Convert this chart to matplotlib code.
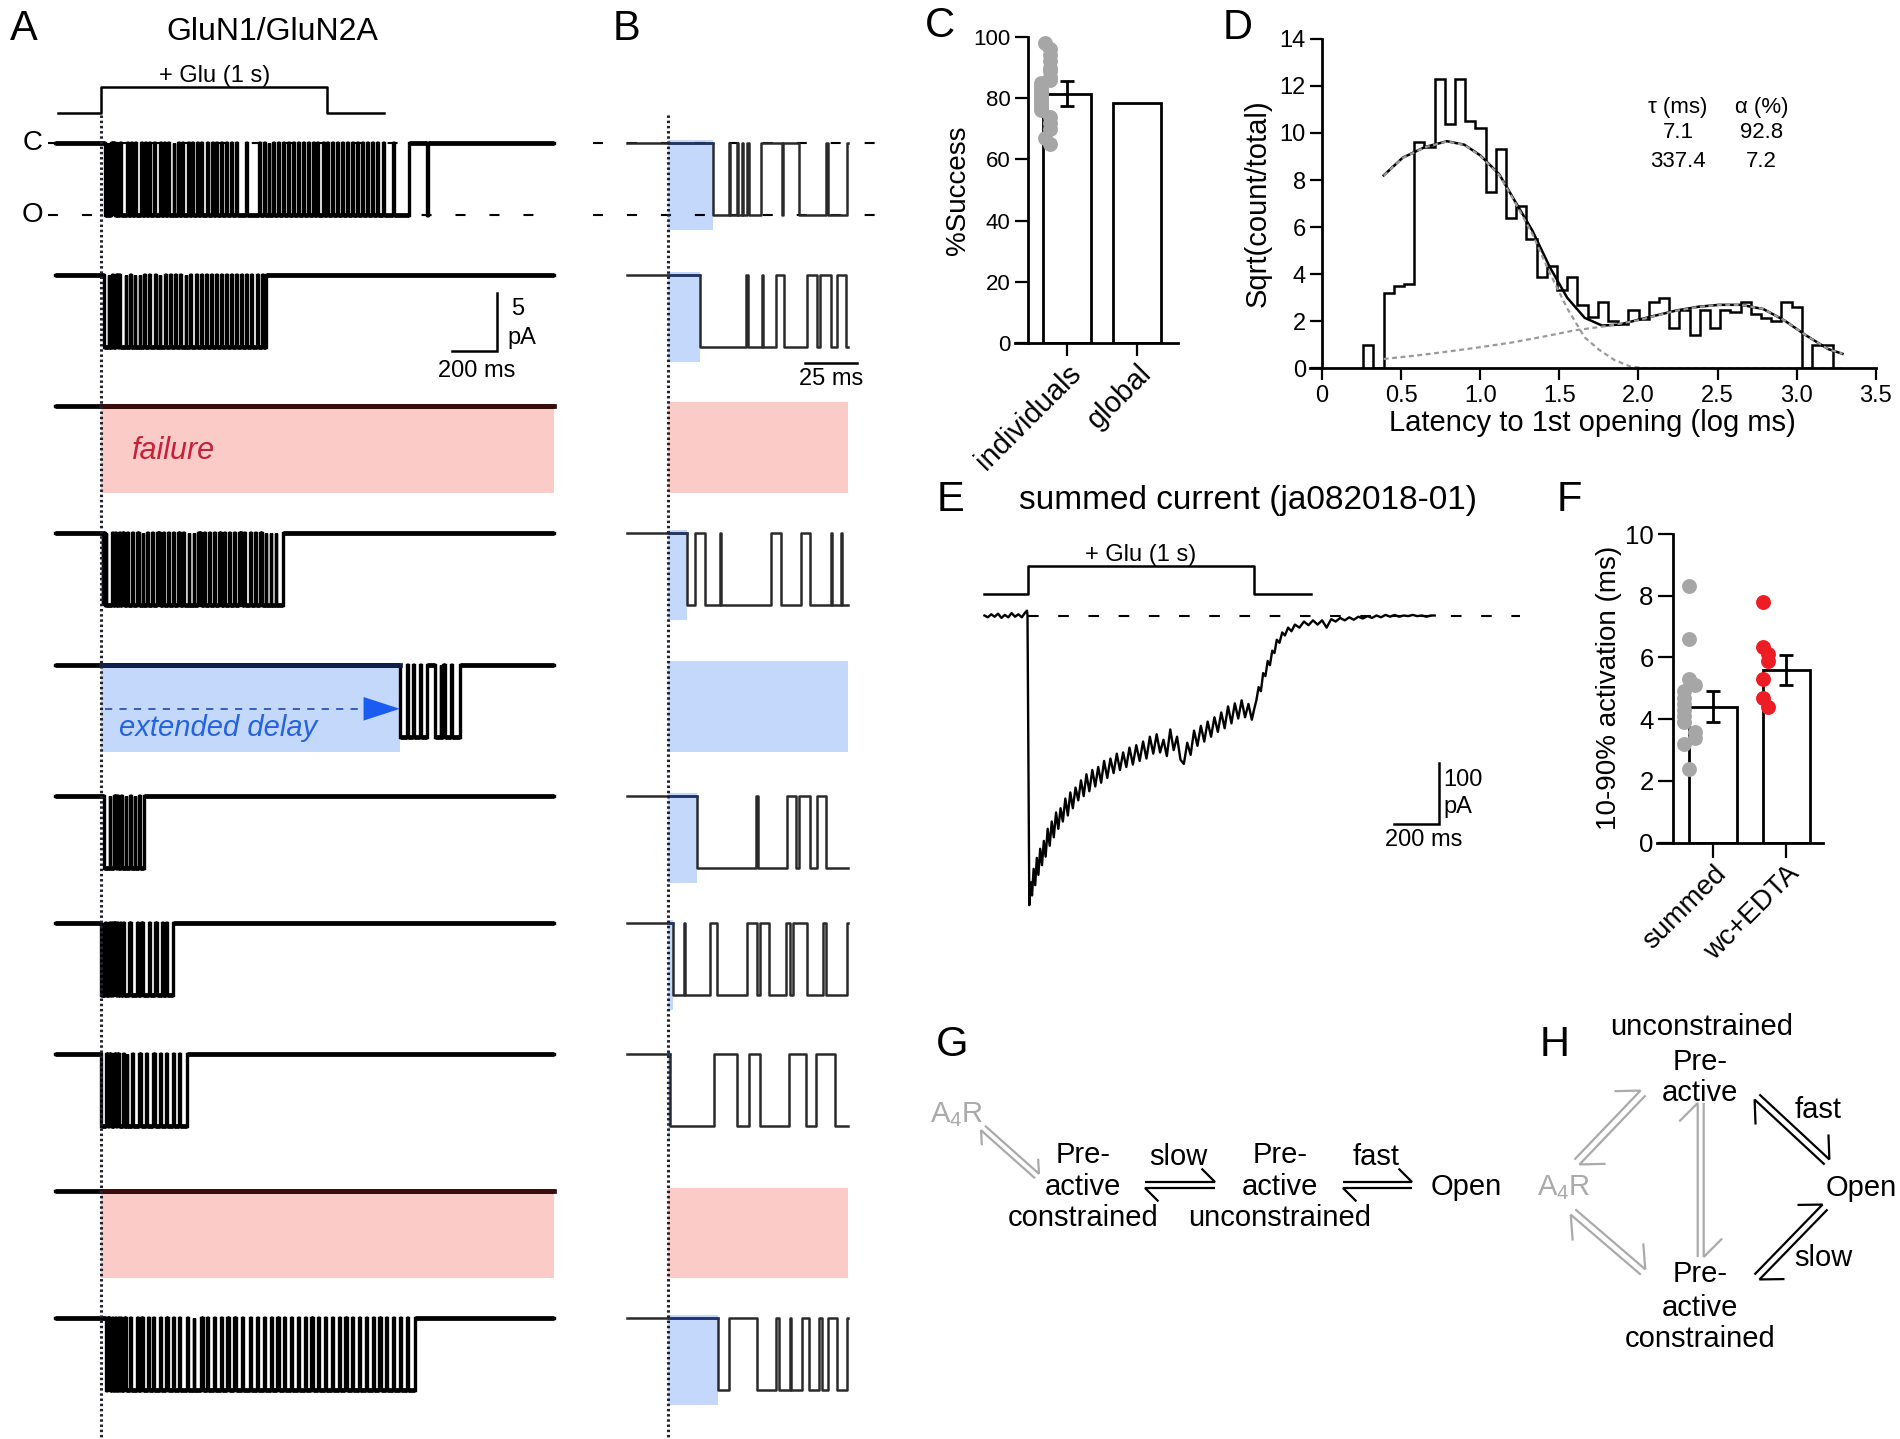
import numpy as np
import matplotlib
matplotlib.use("Agg")
import matplotlib.pyplot as plt
from matplotlib.lines import Line2D
import matplotlib.transforms as mtrans

plt.rcParams['font.family'] = ['Liberation Sans', 'DejaVu Sans']
plt.rcParams['mathtext.fontset'] = 'custom'
plt.rcParams['mathtext.rm'] = 'Liberation Sans'
plt.rcParams['mathtext.it'] = 'Liberation Sans:italic'

# ====================== DATA ======================
# Panels A/B: single-channel sweeps; open intervals in ms after glutamate onset
sweep_01 = [(21.5, 29.0), (29.6, 33.0), (33.6, 35.5), (36.1, 38.0), (38.6, 44.5), (54.5, 55.3),
            (63.0, 76.0), (76.6, 86.0), (92, 118), (121, 135), (139, 152), (156, 178), (181, 196),
            (200, 214), (218, 236), (240, 262), (265, 281), (285, 297), (301, 322), (326, 340),
            (344, 361), (365, 384), (388, 402), (406, 425), (429, 445), (449, 468), (472, 491),
            (495, 509), (513, 532), (536, 553), (557, 575), (579, 598), (602, 640), (644, 700),
            (704, 722), (726, 741), (745, 763), (767, 783), (787, 806), (810, 829), (833, 848),
            (852, 871), (875, 893), (897, 914), (918, 936), (940, 957), (961, 980), (984, 1000),
            (1004, 1022), (1026, 1045), (1049, 1066), (1070, 1088), (1092, 1110), (1114, 1131),
            (1135, 1152), (1156, 1175), (1179, 1198), (1202, 1220), (1224, 1245), (1249, 1290),
            (1294, 1362), (1442, 1447)]
sweep_02 = [(15.1, 37.5), (38.2, 45.0), (45.6, 52.0), (55.5, 66.5), (71.5, 73.0), (78.0, 81.0),
            (85.5, 110), (114, 131), (135, 150), (154, 172), (176, 190), (194, 215), (219, 240),
            (244, 260), (264, 283), (287, 305), (309, 330), (334, 352), (356, 375), (379, 395),
            (399, 420), (424, 442), (446, 465), (469, 487), (491, 510), (514, 532), (536, 552),
            (556, 575), (579, 597), (601, 620), (624, 642), (646, 665), (669, 690), (694, 712),
            (716, 732)]
sweep_03 = []
sweep_04 = [(8.8, 12.6), (17.8, 24.8), (25.4, 49.5), (54.3, 64.0), (68.0, 78.0), (78.7, 83.0),
            (83.6, 95), (102, 118), (122, 140), (144, 160), (170, 185), (189, 205), (209, 228),
            (232, 250), (262, 275), (279, 296), (300, 320), (324, 342), (352, 365), (369, 388),
            (392, 410), (414, 432), (442, 455), (459, 478), (482, 500), (504, 522), (533, 545),
            (549, 566), (570, 590), (594, 612), (622, 635), (639, 660), (664, 683), (687, 705),
            (714, 728), (732, 750), (754, 772), (776, 805)]
sweep_05 = [(1320, 1352), (1355, 1380), (1384, 1410), (1413, 1439), (1476, 1500), (1504, 1511),
            (1518, 1545), (1549, 1585)]
sweep_06 = [(14.0, 42.4), (43.0, 57.0), (61.5, 62.8), (68.0, 71.5), (76.0, 92.0), (95, 110),
            (114, 128), (134, 150), (154, 170), (174, 190)]
sweep_07 = [(2.4, 7.5), (8.0, 20.0), (23.5, 38.0), (42.5, 44.0), (48.5, 56.5), (58.5, 60.0),
            (66.5, 74.5), (76.0, 86.0), (88, 100), (104, 125), (135, 160), (165, 180), (185, 215),
            (220, 240), (248, 270), (275, 290), (295, 318)]
sweep_08 = [(0.8, 22.0), (32.8, 39.0), (44.0, 58.0), (66.0, 71.0), (80.0, 100), (104, 115),
            (118, 140), (144, 170), (178, 200), (204, 230), (238, 260), (265, 290), (294, 320),
            (325, 345), (350, 380)]
sweep_09 = []
sweep_10 = [(23.9, 29.2), (42.8, 51.7), (53.0, 58.5), (59.2, 64.5), (67.7, 72.4), (73.8, 77.0),
            (81.0, 86.0), (90, 105), (110, 130), (134, 160), (165, 180), (186, 210), (215, 230),
            (236, 260), (265, 290), (296, 320), (326, 345), (350, 380), (385, 410), (414, 445),
            (450, 470), (476, 500), (505, 530), (536, 560), (566, 590), (596, 625), (630, 660),
            (664, 690), (696, 720), (726, 750), (755, 780), (786, 810), (815, 840), (846, 870),
            (876, 900), (905, 930), (936, 960), (966, 990), (995, 1020), (1026, 1050), (1056, 1080),
            (1086, 1110), (1116, 1140), (1146, 1170), (1176, 1200), (1206, 1230), (1236, 1260),
            (1266, 1290), (1296, 1320), (1326, 1350), (1356, 1388)]
sweeps = [sweep_01, sweep_02, sweep_03, sweep_04, sweep_05,
          sweep_06, sweep_07, sweep_08, sweep_09, sweep_10]
sweep_kind = ['ok', 'ok', 'failure', 'ok', 'delay', 'ok', 'ok', 'ok', 'failure', 'ok']
unitary_pA = 6.2
sweep_start, sweep_end = -200, 2000          # ms (panel A)
zoom_start, zoom_end = -20, 86.5             # ms (panel B)
glu_t = [-190, 0, 0, 1000, 1000, 1250]
glu_level = [0, 0, 1, 1, 0, 0]

# Panel C
C_categories = ['individuals', 'global']
C_values = [81.5, 78.5]
C_sem = 4.1
C_points = [98, 96, 94, 92, 90, 89, 87, 86, 85, 84, 83, 82, 81, 80, 79, 78, 77, 76, 74, 72, 70, 67, 65]

# Panel D
D_bin_start, D_bin_width = 0.26, 0.0645
D_heights = [1.0, 0.0, 3.2, 3.5, 3.6, 9.6, 9.4, 12.3, 10.4, 12.3, 10.5, 10.2, 7.5, 9.3, 6.4, 6.9,
             5.5, 3.9, 4.35, 3.35, 3.9, 2.7, 2.2, 2.8, 2.0, 1.9, 2.5, 2.1, 2.8, 3.0, 1.7, 2.5, 1.4,
             2.5, 1.7, 2.5, 2.4, 2.8, 2.3, 2.15, 2.0, 2.8, 2.6, 0.0, 1.0, 1.0]
D_fit_x = [0.39, 0.51, 0.65, 0.79, 0.90, 1.00, 1.12, 1.22, 1.33, 1.44, 1.55, 1.66, 1.77, 1.88,
           1.99, 2.10, 2.24, 2.38, 2.51, 2.65, 2.79, 2.92, 3.06, 3.20, 3.29]
D_fit_total = [8.2, 8.95, 9.4, 9.65, 9.5, 9.05, 8.25, 7.1, 5.85, 4.3, 3.0, 2.15, 1.82, 1.86, 2.05,
               2.23, 2.46, 2.62, 2.70, 2.70, 2.52, 2.05, 1.40, 0.82, 0.62]
D_fast_x = [0.39, 0.51, 0.65, 0.79, 0.90, 1.00, 1.12, 1.22, 1.33, 1.44, 1.55, 1.66, 1.75, 1.85,
            1.95, 2.05, 3.29]
D_fast_y = [8.19, 8.94, 9.39, 9.64, 9.49, 9.03, 8.22, 7.06, 5.7, 4.05, 2.55, 1.32, 0.8, 0.35,
            0.08, 0.0, 0.0]
D_slow_x = [0.39, 0.6, 0.8, 1.0, 1.2, 1.4, 1.6, 1.8, 1.99, 2.10, 2.24, 2.38, 2.51, 2.65, 2.79,
            2.92, 3.06, 3.20, 3.29]
D_slow_y = [0.4, 0.55, 0.72, 0.9, 1.1, 1.35, 1.62, 1.8, 2.03, 2.22, 2.45, 2.61, 2.7, 2.7, 2.52,
            2.05, 1.4, 0.82, 0.62]
D_tau = ['7.1', '337.4']
D_alpha = ['92.8', '7.2']
D_xticklabels = ['0', '0.5', '1.0', '1.5', '2.0', '2.5', '3.0', '3.5']

# Panel E: summed current (ms, pA)
E_t = [-190, -175, -160, -145, -130, -115, -100, -85, -70, -55, -40, -25, -10, -2, 0,
       8, 14, 20, 27, 34, 41, 48, 56, 64, 72, 80, 89, 98, 107, 116, 126, 136, 146, 156, 167,
       178, 189, 200, 212, 224, 236, 248, 260, 273, 286, 299, 312, 325, 338, 352, 366, 380,
       394, 408, 422, 436, 450, 465, 480, 495, 510, 525, 540, 555, 570, 585, 600, 615, 630,
       645, 660, 675, 690, 705, 720, 735, 750, 765, 780, 795, 810, 825, 840, 855, 870, 885,
       900, 915, 930, 945, 960, 975, 990, 1000, 1010, 1020, 1030, 1040, 1050, 1060, 1070,
       1080, 1090, 1100, 1112, 1124, 1136, 1150, 1165, 1180, 1200, 1220, 1240, 1260, 1280,
       1300, 1320, 1340, 1360, 1380, 1400, 1420, 1440, 1460, 1480, 1500, 1520, 1540, 1560,
       1580, 1600, 1620, 1640, 1660, 1680, 1700, 1720, 1740, 1760, 1780, 1797]
E_I = [0, -3, 2, -2, 3, -4, 1, -3, 4, -2, 2, -3, 5, 8, 0,
       -478, -440, -462, -418, -445, -400, -428, -385, -412, -372, -398, -352, -380, -340, -366,
       -325, -352, -318, -340, -302, -330, -292, -318, -284, -305, -272, -298, -262, -290, -255,
       -282, -250, -276, -240, -268, -236, -260, -228, -255, -226, -250, -218, -246, -214, -240,
       -208, -236, -200, -228, -196, -226, -205, -232, -188, -222, -200, -238, -245, -210, -230,
       -190, -215, -182, -208, -175, -200, -168, -192, -160, -186, -150, -178, -145, -170, -140,
       -168, -146, -172, -155, -140, -118, -125, -95, -100, -75, -82, -58, -62, -40, -45, -28,
       -33, -20, -26, -15, -20, -10, -16, -8, -15, -8, -20, -6, -10, -4, -8, -3, -7, -2, -5, -1,
       -4, 0, -3, 1, -2, 1, -2, 0, -1, 1, -1, 0, -2, 0, 0]
E_glu_t = [-192, 0, 0, 1000, 1000, 1252]

# Panel F
F_categories = ['summed', 'wc+EDTA']
F_means = [4.4, 5.6]
F_sem = [0.5, 0.48]
F_summed = [8.3, 6.6, 5.3, 5.1, 4.9, 4.7, 4.5, 4.3, 4.1, 3.9, 3.6, 3.4, 3.2, 2.4]
F_wc = [7.8, 6.35, 6.1, 5.9, 5.3, 4.7, 4.4]

# ====================== LAYOUT / STYLE ======================
W, H = 1900, 1439
fig = plt.figure(figsize=(W / 100, H / 100), dpi=100)
PINK, BLUE = '#fbcbc7', '#c4d8fb'
GRAY = '#a6a6a6'
RED = '#ee1c24'


def box(x0, y0, x1, y1):
    return [x0 / W, 1 - y1 / H, (x1 - x0) / W, (y1 - y0) / H]


ov = fig.add_axes([0, 0, 1, 1])
ov.set_xlim(0, W)
ov.set_ylim(H, 0)
ov.set_axis_off()
ov.set_zorder(10)


def sweep_xy(opens, t0, t1, amp):
    xs, ys = [t0], [0.0]
    for a, b in opens:
        if b <= t0 or a >= t1:
            continue
        a = max(a, t0)
        if b >= t1:
            xs += [a, a, t1]
            ys += [0, -amp, -amp]
            return np.array(xs), np.array(ys)
        xs += [a, a, b, b]
        ys += [0, -amp, -amp, 0]
    xs.append(t1)
    ys.append(0.0)
    return np.array(xs), np.array(ys)


def draw_trace(ax, xs, ys, color, lw_v, lw_h, z=3):
    """Step trace: thin transitions, thicker (noisy-looking) dwell levels."""
    ax.plot(xs, ys, color=color, lw=lw_v, zorder=z, solid_joinstyle='miter')
    hx0, hx1, hy = [], [], []
    for k in range(len(xs) - 1):
        if ys[k] == ys[k + 1] and xs[k + 1] > xs[k]:
            hx0.append(xs[k]); hx1.append(xs[k + 1]); hy.append(ys[k])
    ax.hlines(hy, hx0, hx1, color=color, lw=lw_h, zorder=z)


ROW_BASE = [143.0, 275.1, 405.9, 533.1, 665.2, 796.1, 923.3, 1054.2, 1191.1, 1318.3]
PXPA = 11.6
A_T0PX, A_PXMS, A_XLIM = 100.6, 0.2266, (-210, 2020)
B_T0PX, B_PXMS, B_XLIM = 668.3, 2.08, (-36, 99.5)
YLIM = (-8.7, 2.5)
HL = 7.5  # highlight depth (pA)
A_LWV, A_LWH, B_LW = 2.4, 3.4, 1.8


def row_axes(base, t0px, pxms, xlim):
    x0 = t0px + xlim[0] * pxms
    x1 = t0px + xlim[1] * pxms
    ax = fig.add_axes(box(x0, base - YLIM[1] * PXPA, x1, base - YLIM[0] * PXPA))
    ax.set_xlim(*xlim)
    ax.set_ylim(*YLIM)
    ax.set_axis_off()
    return ax


A_rows, B_rows = [], []
for i, (opens, kind) in enumerate(zip(sweeps, sweep_kind)):
    axA = row_axes(ROW_BASE[i], A_T0PX, A_PXMS, A_XLIM)
    axB = row_axes(ROW_BASE[i], B_T0PX, B_PXMS, B_XLIM)
    A_rows.append(axA)
    B_rows.append(axB)
    xs, ys = sweep_xy(opens, sweep_start, sweep_end, unitary_pA)
    draw_trace(axA, xs, ys, 'black', A_LWV, A_LWH)
    if kind == 'failure':
        axA.fill_between([0, sweep_end], -HL, 0.2, color=PINK, lw=0, zorder=1)
        axA.plot([0, sweep_end], [0, 0], color='#3a0c0c', lw=A_LWH, zorder=4)
        axB.fill_between([0, zoom_end], -HL, 0.3, color=PINK, lw=0, zorder=1)
    elif kind == 'delay':
        lat = opens[0][0]
        axA.fill_between([0, lat], -HL, 0.2, color=BLUE, lw=0, zorder=1)
        axA.plot([0, lat], [0, 0], color='#10204a', lw=A_LWH, zorder=4)
        axB.fill_between([0, zoom_end], -HL, 0.4, color=BLUE, lw=0, zorder=1)
        axA.plot([21, lat - 150], [-3.76, -3.76], color='#2d55b0', lw=1.3, dashes=(4, 4), zorder=5)
        axA.annotate('', xy=(lat, -3.76), xytext=(lat - 200, -3.76),
                     arrowprops=dict(arrowstyle='-|>,head_length=2.6,head_width=0.85',
                                     mutation_scale=10, color='#1a5cf0', lw=0.01,
                                     shrinkA=0, shrinkB=0), zorder=6)
    else:
        lat = opens[0][0]
        axB.fill_between([0, lat], -HL, 0.3, color=BLUE, lw=0, zorder=1)
        xb, yb = sweep_xy(opens, zoom_start, zoom_end, unitary_pA)
        axB.plot(xb, yb, color='#2a2a2a', lw=B_LW, zorder=3)
        axB.plot([0, lat], [0, 0], color='#22336b', lw=B_LW, zorder=4)

# C / O reference levels
for lvl in (0, -unitary_pA):
    A_rows[0].plot([-230, sweep_end], [lvl, lvl], color='black', lw=1.5, dashes=(4.8, 11.5),
                   zorder=2, clip_on=False)
    B_rows[0].plot(B_XLIM, [lvl, lvl], color='black', lw=1.5, dashes=(4.8, 11.5), zorder=2)
ov.text(32.7, 143, 'C', ha='center', va='center', fontsize=20)
ov.text(32.7, 214.5, 'O', ha='center', va='center', fontsize=20)

# stimulus bar panel A
axS = fig.add_axes(box(A_T0PX + A_XLIM[0] * A_PXMS, 87.3, A_T0PX + A_XLIM[1] * A_PXMS, 113.0))
axS.set_xlim(*A_XLIM)
axS.set_ylim(0, 1)
axS.set_axis_off()
axS.plot(glu_t, glu_level, color='black', lw=1.8, clip_on=False)
ov.text(214.5, 76, '+ Glu (1 s)', ha='center', va='center', fontsize=17)

# dotted onset lines
for axr in (A_rows[0], B_rows[0]):
    tr = mtrans.blended_transform_factory(axr.transData, fig.transFigure)
    fig.add_artist(Line2D([0, 0], [1 - 115 / H, 0], transform=tr, color='#22222e', lw=2.2,
                          linestyle=(0, (0.8, 0.9)), zorder=20))

# scale bars A and B
a2 = A_rows[1]
a2.plot([1550, 1750, 1750], [-6.54, -6.54, -1.54], color='black', lw=1.8, clip_on=False,
        solid_joinstyle='miter')
a2.text(1812, -2.9, '5', ha='left', va='center', fontsize=17)
a2.text(1795, -5.4, 'pA', ha='left', va='center', fontsize=17)
a2.text(1661, -8.25, '200 ms', ha='center', va='center', fontsize=17)
b2 = B_rows[1]
b2.plot([65.6, 90.6], [-7.62, -7.62], color='black', lw=1.8, clip_on=False)
b2.text(78.1, -8.97, '25 ms', ha='center', va='center', fontsize=17)

ov.text(174, 451, 'failure', ha='center', va='center', fontsize=22, style='italic', color='#c8203a')
ov.text(218, 728, 'extended delay', ha='center', va='center', fontsize=21, style='italic',
        color='#2463e0')
ov.text(272.6, 32, 'GluN1/GluN2A', ha='center', va='center', fontsize=23)

# ---------------- Panel C ----------------
def style_axis(ax, tick_len, tick_fs):
    for s in ('top', 'right'):
        ax.spines[s].set_visible(False)
    for s in ('left', 'bottom'):
        ax.spines[s].set_linewidth(2.0)
    ax.tick_params(direction='out', width=1.6, length=tick_len, labelsize=tick_fs, pad=3)


def swarm(vals, dy, dx):
    placed, offs = [], []
    for v in vals:
        k = sum(1 for p in placed if abs(p - v) < dy)
        off = ((k + 1) // 2) * dx * (1 if k % 2 else -1)
        offs.append(off)
        placed.append(v)
    return np.array(offs)


axC = fig.add_axes(box(1015, 37, 1178, 343))
axC.set_xlim(-0.73, 1.574)
axC.set_ylim(0, 100)
style_axis(axC, 9.4, 16)
axC.spines['left'].set_position(('data', -0.547))
axC.spines['left'].set_bounds(0, 100)
axC.bar([0, 1], C_values, width=0.68, color='white', edgecolor='black', lw=2.0, zorder=2)
axC.errorbar(0, C_values[0], yerr=C_sem, color='black', lw=2.0, capsize=5, capthick=2.0, zorder=3)
axC.scatter(-0.30 + swarm(C_points, 3.0, 0.06), C_points, s=115, color=GRAY, lw=0, zorder=4,
            clip_on=False)
axC.set_yticks([0, 20, 40, 60, 80, 100])
axC.set_xticks([0, 1])
axC.set_xticklabels(C_categories, rotation=45, ha='right', rotation_mode='anchor', fontsize=21)
axC.tick_params(axis='x', pad=2)
axC.set_ylabel('%Success', fontsize=20, labelpad=2)

# ---------------- Panel D ----------------
axD = fig.add_axes(box(1310, 38.8, 1875.7, 368.4))
axD.set_xlim(-0.076, 3.5)
axD.set_ylim(0, 14)
style_axis(axD, 8.6, 17)
axD.spines['left'].set_position(('data', 0))
edges = D_bin_start + D_bin_width * np.arange(len(D_heights) + 1)
axD.stairs(D_heights, edges, color='black', lw=1.8, baseline=0)
axD.plot(D_fit_x, D_fit_total, color='black', lw=1.8)
axD.plot(D_fast_x, D_fast_y, color='#9a9a9a', lw=1.6, dashes=(2.2, 1.6))
axD.plot(D_slow_x, D_slow_y, color='#9a9a9a', lw=1.6, dashes=(2.2, 1.6))
axD.set_xticks(np.arange(0, 3.51, 0.5))
axD.set_xticklabels(D_xticklabels)
axD.set_yticks(np.arange(0, 15, 2))
axD.set_xlabel('Latency to 1st opening (log ms)', fontsize=21, labelpad=2)
axD.set_ylabel('Sqrt(count/total)', fontsize=21, labelpad=6)
axD.text(2.25, 11.07, 'τ (ms)', ha='center', va='center', fontsize=16)
axD.text(2.78, 11.07, 'α (%)', ha='center', va='center', fontsize=16)
for k in range(2):
    axD.text(2.25, 10.0 - 1.2 * k, D_tau[k], ha='center', va='center', fontsize=16)
    axD.text(2.78, 10.0 - 1.2 * k, D_alpha[k], ha='center', va='center', fontsize=16)

# ---------------- Panel E ----------------
E_T0PX, E_PXMS, E_BASE, E_PXPA = 1027.5, 0.2266, 615.5, 0.606
E_XLIM, E_YLIM = (-200, 2200), (-500, 60)
axE = fig.add_axes(box(E_T0PX + E_XLIM[0] * E_PXMS, E_BASE - E_YLIM[1] * E_PXPA,
                       E_T0PX + E_XLIM[1] * E_PXMS, E_BASE - E_YLIM[0] * E_PXPA))
axE.set_xlim(*E_XLIM)
axE.set_ylim(*E_YLIM)
axE.set_axis_off()
axE.hlines(0, 0, 2175, color='black', lw=1.5, linestyles=(0, (5.1, 9.4)))
axE.plot(E_t, E_I, color='black', lw=1.7)
axE.plot([1618, 1818, 1818], [-344, -344, -244], color='black', lw=1.8, solid_joinstyle='miter')
axE.text(1836, -272, '100', ha='left', va='center', fontsize=17)
axE.text(1836, -316, 'pA', ha='left', va='center', fontsize=17)
axE.text(1748, -370, '200 ms', ha='center', va='center', fontsize=17)
axES = fig.add_axes(box(E_T0PX + E_XLIM[0] * E_PXMS, 565.9, E_T0PX + E_XLIM[1] * E_PXMS, 593.7))
axES.set_xlim(*E_XLIM)
axES.set_ylim(0, 1)
axES.set_axis_off()
axES.plot(E_glu_t, glu_level, color='black', lw=1.8, clip_on=False)
ov.text(1141, 555, '+ Glu (1 s)', ha='center', va='center', fontsize=17)
ov.text(1248, 500, 'summed current (ja082018-01)', ha='center', va='center', fontsize=24)

# ---------------- Panel F ----------------
axF = fig.add_axes(box(1657, 534, 1823, 842.7))
axF.set_xlim(-0.762, 1.497)
axF.set_ylim(0, 10)
style_axis(axF, 11, 18.5)
axF.spines['left'].set_position(('data', -0.544))
axF.spines['left'].set_bounds(0, 10)
axF.bar([0, 1], F_means, width=0.646, color='white', edgecolor='black', lw=2.0, zorder=2)
axF.errorbar([0, 1], F_means, yerr=F_sem, fmt='none', ecolor='black', elinewidth=2.0,
             capsize=5, capthick=2.0, zorder=3)
axF.scatter(-0.32 + swarm(F_summed, 0.42, 0.07), F_summed, s=115, color=GRAY, lw=0, zorder=4)
axF.scatter(1 - 0.32 + swarm(F_wc, 0.42, 0.07), F_wc, s=115, color=RED, lw=0, zorder=4)
axF.set_yticks([0, 2, 4, 6, 8, 10])
axF.set_xticks([0, 1])
axF.set_xticklabels(F_categories, rotation=45, ha='right', rotation_mode='anchor', fontsize=20)
axF.tick_params(axis='x', pad=2)
axF.set_ylabel('10-90% activation (ms)', fontsize=20, labelpad=2)

# ---------------- Panels G / H (schemes) ----------------
def harpoons(p0, p1, color, sep=6.0, barb=19.0, lw=1.6):
    x0, y0 = p0
    x1, y1 = p1
    Y0, Y1 = -y0, -y1
    dx, dy = x1 - x0, Y1 - Y0
    L = np.hypot(dx, dy)
    ux, uy = dx / L, dy / L
    nx, ny = -uy, ux
    h = sep / 2
    s = np.sqrt(0.5)
    fx0, fy0 = x0 + nx * h, Y0 + ny * h
    fx1, fy1 = x1 + nx * h, Y1 + ny * h
    bx, by = fx1 + barb * s * (-ux + nx), fy1 + barb * s * (-uy + ny)
    ov.plot([fx0, fx1, bx], [-fy0, -fy1, -by], color=color, lw=lw, solid_joinstyle='miter',
            solid_capstyle='butt')
    gx0, gy0 = x0 - nx * h, Y0 - ny * h
    gx1, gy1 = x1 - nx * h, Y1 - ny * h
    cx, cy = gx0 + barb * s * (ux - nx), gy0 + barb * s * (uy - ny)
    ov.plot([cx, gx0, gx1], [-cy, -gy0, -gy1], color=color, lw=lw, solid_joinstyle='miter',
            solid_capstyle='butt')


SG = '#aaaaaa'
FS = 21
# G
ov.text(957, 1115, 'A$_4$R', ha='center', va='center', fontsize=FS, color=SG)
harpoons((983, 1128), (1037, 1176), SG, sep=6, barb=15)
for txt, y in (('Pre-', 1155), ('active', 1187), ('constrained', 1218)):
    ov.text(1083, y, txt, ha='center', va='center', fontsize=FS)
for txt, y in (('Pre-', 1155), ('active', 1187), ('unconstrained', 1218)):
    ov.text(1280, y, txt, ha='center', va='center', fontsize=FS)
ov.text(1178, 1157, 'slow', ha='center', va='center', fontsize=FS)
harpoons((1145, 1185), (1215, 1185), 'black', sep=6, barb=19)
ov.text(1376, 1157, 'fast', ha='center', va='center', fontsize=FS)
harpoons((1343, 1185), (1412, 1185), 'black', sep=6, barb=19)
ov.text(1466, 1187, 'Open', ha='center', va='center', fontsize=FS)

# H
ov.text(1702, 1027, 'unconstrained', ha='center', va='center', fontsize=FS)
ov.text(1700, 1062, 'Pre-', ha='center', va='center', fontsize=FS)
ov.text(1700, 1093, 'active', ha='center', va='center', fontsize=FS)
ov.text(1564, 1188, 'A$_4$R', ha='center', va='center', fontsize=FS, color=SG)
harpoons((1577, 1162), (1643, 1093), SG, sep=7, barb=26)
harpoons((1573, 1212), (1643, 1272), SG, sep=7, barb=26)
harpoons((1700.7, 1257), (1700.7, 1103), SG, sep=6, barb=26)
harpoons((1757, 1097), (1827, 1162), 'black', sep=7, barb=25)
ov.text(1818, 1110, 'fast', ha='center', va='center', fontsize=FS)
ov.text(1826, 1188, 'Open', ha='left', va='center', fontsize=FS)
harpoons((1757, 1277), (1825, 1207), 'black', sep=7, barb=25)
ov.text(1823, 1258, 'slow', ha='center', va='center', fontsize=FS)
for txt, y in (('Pre-', 1274), ('active', 1308), ('constrained', 1339)):
    ov.text(1700, y, txt, ha='center', va='center', fontsize=FS)

# panel letters
for lab, x, y in (('A', 24, 29), ('B', 626, 29), ('C', 940, 26), ('D', 1238, 28),
                  ('E', 951, 500), ('F', 1569, 500), ('G', 952, 1045), ('H', 1555, 1045)):
    ov.text(x, y, lab, ha='center', va='center', fontsize=30)

fig.savefig('out.png', dpi=100)
